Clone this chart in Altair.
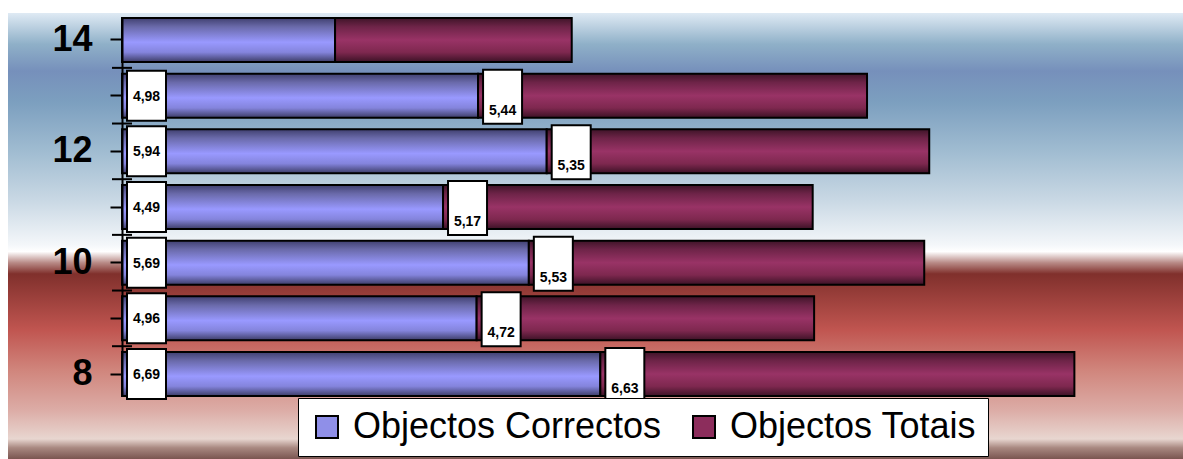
import altair as alt
import pandas as pd

# Grade levels on the vertical axis and the two series per level
levels = [8, 9, 10, 11, 12, 13, 14]
correct_objects = [6.69, 4.96, 5.69, 4.49, 5.94, 4.98, 2.98]
total_objects = [6.63, 4.72, 5.53, 5.17, 5.35, 5.44, 3.31]
labelled = [True, True, True, True, True, True, False]

series_names = ["Objectos Correctos", "Objectos Totais"]
series_colors = ["#8f8fe8", "#8c2d5c"]

FONT = "Liberation Sans"

df = pd.DataFrame({
    "level": levels,
    "correct": correct_objects,
    "total": total_objects,
    "labelled": labelled,
})
df["zero"] = 0.0
df["end"] = df["correct"] + df["total"]

legend_df = pd.DataFrame({"series": series_names, "level": [levels[0]] * 2})

y_enc = alt.Y(
    "level:O",
    sort="descending",
    scale=alt.Scale(paddingInner=0.21, paddingOuter=0),
    axis=alt.Axis(
        title=None,
        labelExpr="datum.value % 2 == 0 ? datum.label : ''",
        labelFont=FONT,
        labelFontSize=36,
        labelFontWeight="bold",
        labelColor="black",
        labelPadding=18,
        tickSize=12,
        tickWidth=2,
        tickColor="black",
        domainColor="black",
        domainWidth=2,
        zindex=1,
    ),
)
x_scale = alt.Scale(domain=[0, 14], nice=False, zero=True)


def vgrad(stops):
    return alt.Gradient(
        gradient="linear", x1=0, x2=0, y1=0, y2=1,
        stops=[alt.GradientStop(offset=o, color=c) for o, c in stops],
    )


panel_bg = vgrad([
    (0.00, "#dfeaf4"), (0.07, "#8fb0c8"), (0.13, "#7690bb"), (0.20, "#7c9fbf"),
    (0.31, "#a0bcd1"), (0.42, "#c9d8e4"), (0.52, "#f4f7fa"), (0.535, "#ffffff"),
    (0.56, "#b88a86"), (0.585, "#80302c"), (0.71, "#c05550"), (0.80, "#d0857c"),
    (0.89, "#dcaca6"), (0.955, "#e8d6d0"), (0.975, "#a88880"), (1.00, "#7a5550"),
])
blue_grad = vgrad([
    (0.0, "#404070"), (0.2, "#6a6aaa"), (0.55, "#9999ff"), (0.78, "#8484dc"), (1.0, "#3c3c66"),
])
maroon_grad = vgrad([
    (0.0, "#3f1428"), (0.2, "#6e2448"), (0.5, "#993366"), (0.78, "#7e284f"), (1.0, "#3c1226"),
])

base = alt.Chart(df)

background = alt.Chart(pd.DataFrame({"k": [0]})).mark_rect(color=panel_bg).encode(
    x=alt.value(-114), x2=alt.value(1061), y=alt.value(-5), y2=alt.value(441)
)

bars_correct = base.mark_bar(color=blue_grad, stroke="black", strokeWidth=2).encode(
    x=alt.X("zero:Q", scale=x_scale, axis=None),
    x2="correct:Q",
    y=y_enc,
)
bars_total = base.mark_bar(color=maroon_grad, stroke="black", strokeWidth=2).encode(
    x=alt.X("correct:Q", scale=x_scale, axis=None),
    x2="end:Q",
    y=y_enc,
)

# cross ticks on the category boundaries
boundary_ticks = base.transform_filter("datum.level < 14").mark_rule(
    color="black", strokeWidth=2, yOffset=-27.8
).encode(y=y_enc, x=alt.value(-10), x2=alt.value(10))

lab = base.transform_filter("datum.labelled").transform_calculate(
    t_correct="replace(format(datum.correct, '.2f'), '.', ',')",
    t_total="replace(format(datum.total, '.2f'), '.', ',')",
)

box_correct = lab.mark_bar(
    color="white", stroke="black", strokeWidth=2, size=50, xOffset=5, x2Offset=44
).encode(x=alt.X("zero:Q", scale=x_scale, axis=None), x2="zero:Q", y=y_enc)
text_correct = lab.mark_text(
    font=FONT, fontSize=14, fontWeight="bold", color="black",
    align="center", baseline="middle", xOffset=24.5, dy=1,
).encode(x=alt.X("zero:Q", scale=x_scale, axis=None), y=y_enc, text="t_correct:N")

box_total = lab.mark_bar(
    color="white", stroke="black", strokeWidth=2, size=54, xOffset=5, x2Offset=44, yOffset=1
).encode(x=alt.X("correct:Q", scale=x_scale, axis=None), x2="correct:Q", y=y_enc)
text_total = lab.mark_text(
    font=FONT, fontSize=14, fontWeight="bold", color="black",
    align="center", baseline="middle", xOffset=24.5, dy=15,
).encode(x=alt.X("correct:Q", scale=x_scale, axis=None), y=y_enc, text="t_total:N")

legend_layer = alt.Chart(legend_df).transform_filter("false").mark_square().encode(
    y=y_enc,
    color=alt.Color(
        "series:N",
        scale=alt.Scale(domain=series_names, range=series_colors),
        legend=alt.Legend(
            title=None,
            orient="none",
            legendX=176,
            legendY=380,
            direction="horizontal",
            symbolType="square",
            symbolSize=484,
            symbolStrokeColor="black",
            symbolStrokeWidth=2,
            symbolOpacity=1,
            labelFont=FONT,
            labelFontSize=36,
            labelColor="black",
            labelLimit=0,
            labelOffset=8,
            columnPadding=24,
            padding=11,
            fillColor="white",
            strokeColor="black",
        ),
    ),
)

chart = alt.layer(
    background, bars_correct, bars_total, boundary_ticks,
    box_correct, text_correct, box_total, text_total, legend_layer,
).properties(
    width=1001,
    height=378,
    autosize=alt.AutoSizeParams(type="none"),
    padding={"left": 122, "top": 18, "right": 60, "bottom": 63},
    background="white",
).configure_view(stroke=None)

chart.save("out.html", embed_options={"renderer": "svg", "actions": False})
